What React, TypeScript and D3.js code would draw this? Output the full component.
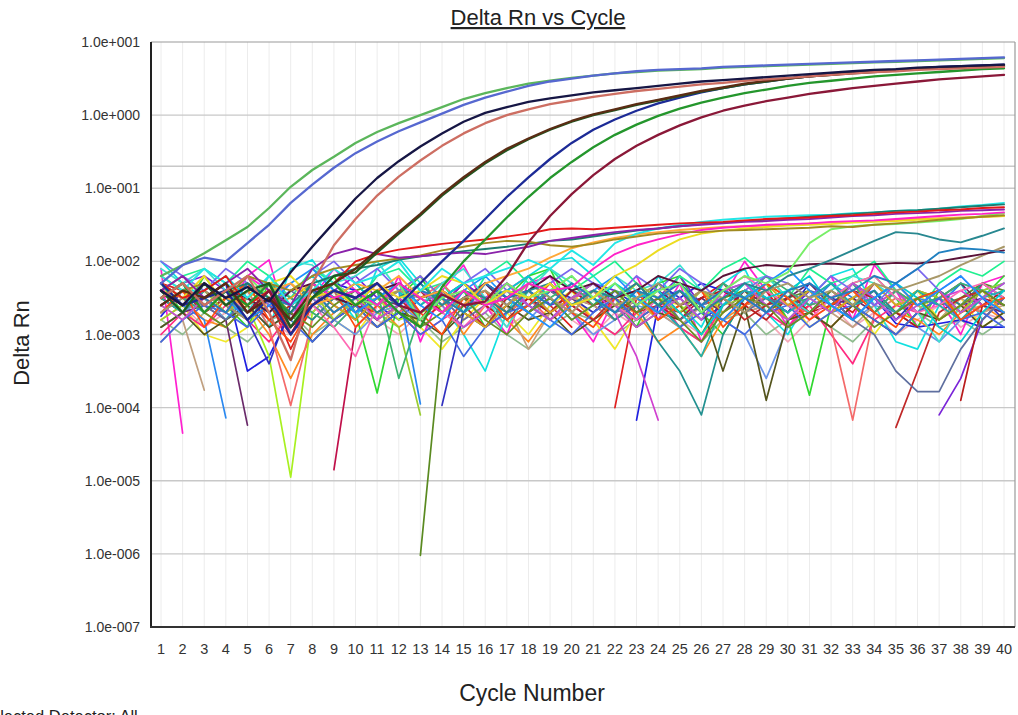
import React, { FC, useMemo } from 'react'
import * as d3 from 'd3'

// x categories (cycle numbers)
const cycles = [
	1, 2, 3, 4, 5, 6, 7, 8, 9, 10, 11, 12, 13, 14, 15, 16, 17, 18, 19, 20,
	21, 22, 23, 24, 25, 26, 27, 28, 29, 30, 31, 32, 33, 34, 35, 36, 37, 38, 39, 40
]

const yTickValues = [1e-7, 1e-6, 1e-5, 1e-4, 1e-3, 1e-2, 1e-1, 1e0, 1e1]
const yTickLabels = [
	'1.0e-007', '1.0e-006', '1.0e-005', '1.0e-004', '1.0e-003',
	'1.0e-002', '1.0e-001', '1.0e+000', '1.0e+001'
]
const threshold = 0.2

// values are log10(Delta Rn); null = not plotted (negative)
const ampGreen = [
	-2.2, -2.05, -1.89, -1.71, -1.53, -1.27, -0.98, -0.75, -0.57, -0.38,
	-0.23, -0.11, 0.0, 0.11, 0.22, 0.3, 0.37, 0.43, 0.47, 0.51,
	0.54, 0.57, 0.59, 0.61, 0.62, 0.63, 0.65, 0.66, 0.67, 0.68,
	0.69, 0.7, 0.71, 0.72, 0.73, 0.74, 0.75, 0.76, 0.77, 0.78
]
const ampBlue = [
	-2.3, -2.05, -1.95, -2.0, -1.75, -1.5, -1.2, -0.95, -0.72, -0.52,
	-0.36, -0.22, -0.1, 0.02, 0.14, 0.24, 0.32, 0.4, 0.46, 0.5,
	0.54, 0.57, 0.6, 0.62, 0.63, 0.64, 0.66, 0.67, 0.68, 0.69,
	0.7, 0.71, 0.72, 0.73, 0.74, 0.75, 0.76, 0.77, 0.78, 0.79
]
const ampNavy = [
	-2.4, -2.6, -2.3, -2.5, -2.35, -2.55, -2.15, -1.8, -1.47, -1.14,
	-0.86, -0.63, -0.43, -0.25, -0.09, 0.03, 0.11, 0.18, 0.23, 0.27,
	0.31, 0.34, 0.37, 0.4, 0.43, 0.46, 0.48, 0.5, 0.52, 0.54,
	0.56, 0.58, 0.6, 0.62, 0.63, 0.65, 0.66, 0.67, 0.68, 0.69
]
const ampSalmon = [
	-2.5, -2.3, -2.6, -2.4, -2.2, -2.7, -3.35, -2.3, -1.78, -1.42,
	-1.1, -0.84, -0.62, -0.42, -0.25, -0.11, 0.0, 0.08, 0.15, 0.2,
	0.25, 0.29, 0.33, 0.36, 0.39, 0.42, 0.44, 0.47, 0.49, 0.51,
	0.53, 0.55, 0.57, 0.59, 0.6, 0.62, 0.63, 0.64, 0.65, 0.66
]
const ampBrown = [
	-2.6, -2.4, -2.5, -2.3, -2.7, -2.5, -2.8, -2.4, -2.3, -2.1,
	-1.85, -1.6, -1.35, -1.08, -0.85, -0.64, -0.46, -0.32, -0.19, -0.08,
	0.01, 0.08, 0.15, 0.21, 0.27, 0.33, 0.38, 0.43, 0.47, 0.5,
	0.53, 0.55, 0.57, 0.59, 0.61, 0.63, 0.64, 0.65, 0.66, 0.67
]
const ampDkGreen = [
	-2.4, -2.7, -2.3, -2.6, -2.4, -2.3, -2.9, -2.5, -2.2, -2.15,
	-1.88, -1.62, -1.37, -1.1, -0.87, -0.66, -0.48, -0.33, -0.2, -0.09,
	0.0, 0.07, 0.14, 0.2, 0.26, 0.32, 0.37, 0.42, 0.46, 0.5,
	0.53, 0.55, 0.58, 0.6, 0.62, 0.63, 0.65, 0.66, 0.67, 0.68
]
const ampNavy2 = [
	-2.3, -2.6, -2.5, -2.4, -2.8, -2.5, -3.0, -2.6, -2.4, -2.5,
	-2.3, -2.6, -2.3, -2.0, -1.72, -1.42, -1.12, -0.85, -0.6, -0.38,
	-0.2, -0.06, 0.06, 0.16, 0.24, 0.31, 0.37, 0.42, 0.46, 0.5,
	0.53, 0.56, 0.58, 0.6, 0.62, 0.64, 0.66, 0.67, 0.68, 0.69
]
const ampGreen2 = [
	-2.5, -2.3, -2.7, -2.4, -2.6, -2.3, -2.8, -2.5, -2.3, -2.6,
	-2.4, -2.7, -2.9, -2.35, -2.0, -1.7, -1.4, -1.12, -0.86, -0.64,
	-0.44, -0.27, -0.13, -0.01, 0.09, 0.17, 0.24, 0.3, 0.35, 0.4,
	0.44, 0.47, 0.5, 0.53, 0.55, 0.57, 0.59, 0.61, 0.63, 0.64
]
const ampMaroon = [
	-2.4, -2.6, -2.5, -2.3, -2.7, -2.4, -2.9, -2.6, -2.4, -2.5,
	-2.3, -2.6, -2.7, -2.45, -2.6, -2.55, -2.2, -1.74, -1.38, -1.08,
	-0.82, -0.6, -0.42, -0.27, -0.14, -0.03, 0.06, 0.13, 0.19, 0.24,
	0.29, 0.33, 0.37, 0.4, 0.43, 0.46, 0.49, 0.51, 0.53, 0.55
]

// low-level risers (~0.05 at cycle 40)
const lowRed = [
	-2.3, -2.5, -2.4, -2.2, -2.6, -2.4, -3.0, -2.5, -2.3, -2.0,
	-1.9, -1.84, -1.8, -1.76, -1.73, -1.7, -1.66, -1.62, -1.56, -1.55,
	-1.56, -1.54, -1.52, -1.5, -1.48, -1.47, -1.46, -1.44, -1.42, -1.41,
	-1.4, -1.38, -1.37, -1.35, -1.33, -1.32, -1.3, -1.29, -1.27, -1.26
]
const lowPurple = [
	-2.4, -2.2, -2.5, -2.3, -2.1, -2.4, -2.6, -2.1, -1.9, -1.82,
	-1.9, -1.95, -1.93, -1.9, -1.88, -1.9, -1.85, -1.8, -1.72, -1.68,
	-1.64, -1.6, -1.57, -1.55, -1.52, -1.5, -1.48, -1.46, -1.45, -1.43,
	-1.42, -1.4, -1.38, -1.37, -1.35, -1.34, -1.33, -1.31, -1.3, -1.29
]
const lowOlive = [
	-2.6, -2.4, -2.3, -2.5, -2.2, -2.3, -2.4, -2.2, -2.1, -2.05,
	-2.0, -1.96, -1.92, -1.85, -1.8, -1.75, -1.72, -1.73, -1.78, -1.8,
	-1.76, -1.7, -1.66, -1.62, -1.6, -1.6, -1.58, -1.57, -1.56, -1.55,
	-1.54, -1.52, -1.53, -1.5, -1.48, -1.46, -1.43, -1.41, -1.39, -1.37
]
const lowTeal = [
	-2.5, -2.3, -2.6, -2.4, -2.3, -2.5, -2.7, -2.3, -2.2, -2.1,
	-2.05, -1.98, -1.93, -1.9, -1.86, -1.83, -1.8, -1.76, -1.72, -1.7,
	-1.66, -1.62, -1.58, -1.55, -1.52, -1.49, -1.47, -1.45, -1.43, -1.41,
	-1.39, -1.37, -1.35, -1.33, -1.31, -1.3, -1.28, -1.26, -1.24, -1.22
]
const lowCyan = [
	-2.2, -2.4, -2.1, -2.3, -2.5, -2.2, -2.6, -2.4, -2.1, -2.3,
	-2.2, -2.0, -2.4, -2.1, -2.3, -2.2, -2.1, -1.98, -2.1, -1.85,
	-2.05, -1.75, -1.62, -1.55, -1.5, -1.46, -1.43, -1.41, -1.39, -1.38,
	-1.37, -1.36, -1.34, -1.33, -1.31, -1.3, -1.28, -1.25, -1.23, -1.2
]
const lowMagenta = [
	-2.4, -2.6, -2.3, -2.5, -2.2, -2.4, -2.8, -2.3, -2.5, -2.4,
	-2.6, -2.3, -2.5, -2.7, -2.4, -2.6, -2.5, -2.3, -2.4, -2.35,
	-2.1, -1.9, -1.78, -1.7, -1.63, -1.57, -1.54, -1.52, -1.5, -1.49,
	-1.48, -1.46, -1.45, -1.44, -1.42, -1.4, -1.38, -1.36, -1.35, -1.33
]
const lowYellow = [
	-2.3, -2.5, -2.2, -2.6, -2.4, -2.3, -2.2, -2.5, -2.4, -2.6,
	-2.3, -2.5, -2.4, -2.2, -2.3, -2.6, -2.4, -2.5, -2.3, -2.6,
	-2.5, -2.2, -2.05, -1.85, -1.7, -1.62, -1.58, -1.55, -1.53, -1.51,
	-1.5, -1.49, -1.47, -1.46, -1.45, -1.43, -1.42, -1.41, -1.39, -1.38
]
const lowOrange = [
	-2.2, -2.4, -2.3, -2.5, -2.6, -2.4, -2.3, -2.6, -2.5, -2.3,
	-2.4, -2.2, -2.5, -2.4, -2.6, -2.3, -2.2, -2.1, -1.95, -1.82,
	-1.74, -1.68, -1.63, -1.6, -1.57, -1.55, -1.53, -1.52, -1.51, -1.5,
	-1.48, -1.47, -1.46, -1.45, -1.43, -1.42, -1.41, -1.4, -1.39, -1.38
]
const lowLtGreen = [
	-2.5, -2.3, -2.6, -2.4, -2.2, -2.5, -2.9, -2.4, -2.3, -2.5,
	-2.6, -2.3, -2.8, -2.5, -2.4, -2.6, -2.3, -2.5, -2.4, -2.2,
	-2.5, -2.3, -2.6, -2.4, -2.3, -2.7, -2.4, -2.2, -2.3, -2.15,
	-1.75, -1.56, -1.52, -1.5, -1.49, -1.47, -1.45, -1.42, -1.38, -1.34
]
const lowTeal2 = [
	-2.4, -2.6, -2.3, -2.5, -2.7, -2.4, -2.6, -2.3, -2.5, -2.4,
	-2.7, -2.5, -2.3, -2.6, -2.4, -2.5, -2.7, -2.4, -2.3, -2.6,
	-2.4, -2.5, -2.3, -2.6, -2.4, -2.7, -2.5, -2.3, -2.4, -2.2,
	-2.1, -1.98, -1.85, -1.72, -1.6, -1.62, -1.7, -1.74, -1.65, -1.55
]
const lowBlueTeal = [
	-2.6, -2.4, -2.5, -2.7, -2.3, -2.5, -2.6, -2.4, -2.7, -2.5,
	-2.3, -2.6, -2.4, -2.5, -2.7, -2.3, -2.5, -2.4, -2.6, -2.3,
	-2.5, -2.7, -2.4, -2.5, -2.3, -2.6, -2.4, -2.5, -2.7, -2.4,
	-2.3, -2.5, -2.4, -2.2, -2.3, -2.1, -1.88, -1.82, -1.84, -1.88
]
const lowDkMaroon = [
	-2.5, -2.3, -2.6, -2.4, -2.5, -2.7, -2.4, -2.3, -2.5, -2.6,
	-2.4, -2.3, -2.5, -2.4, -2.6, -2.3, -2.5, -2.4, -2.2, -2.4,
	-2.3, -2.5, -2.4, -2.2, -2.3, -2.4, -2.2, -2.1, -2.05, -2.07,
	-2.04, -2.03, -2.05, -2.04, -2.02, -2.03, -2.0, -1.95, -1.9, -1.85
]
const lowTan = [
	-2.7, -2.5, -2.4, -2.6, -2.8, -2.5, -2.6, -2.4, -2.7, -2.5,
	-2.6, -2.4, -2.5, -2.7, -2.5, -2.4, -2.6, -2.3, -2.5, -2.7,
	-2.4, -2.6, -2.5, -2.3, -2.6, -2.4, -2.5, -2.7, -2.4, -2.3,
	-2.5, -2.4, -2.6, -2.3, -2.4, -2.3, -2.2, -2.05, -1.92, -1.8
]

// baseline noise wells
const noise01 = [
	-2.1, -4.35, null, -2.7, -2.2, -1.98, -3.0, -2.5, -2.1, -2.4,
	-2.8, -2.2, -3.1, -2.4, -2.05, -2.6, -3.0, -2.3, -2.2, -2.7,
	-3.1, -2.5, -2.2, -2.8, -2.3, -3.1, -2.5, -2.0, -2.4, -2.9,
	-2.5, -2.2, -2.8, -2.05, -2.4, -2.9, -2.5, -3.0, -2.3, -2.2
]
const noise02 = [
	-2.0, -2.3, -2.5, -2.8, -2.4, -2.9, -2.1, -1.98, -2.4, -2.8,
	-2.1, -1.95, -2.3, -2.6, -3.0, -3.5, -2.7, -2.2, -2.0, -1.95,
	-2.2, -2.5, -2.8, -2.2, -2.6, -2.9, -2.3, -2.1, -2.7, -3.0,
	-2.5, -2.2, -2.1, -2.6, -3.1, -3.2, -2.6, -2.3, -2.8, -2.5
]
const noise03 = [
	-2.8, -2.6, -3.0, -3.1, -2.9, -2.5, -2.3, -2.5, -2.8, -3.0,
	-2.6, -2.4, -2.9, -3.2, -2.8, -2.5, -2.7, -3.0, -2.6, -2.4,
	-2.8, -3.2, -2.7, -2.5, -2.6, -3.0, -2.7, -2.4, -2.6, -2.5,
	-2.9, -2.7, -2.5, -3.0, -2.6, -2.4, -2.8, -2.5, -2.9, -2.7
]
const noise04 = [
	-2.3, -2.4, -2.6, -2.4, -2.8, -2.5, -3.2, -2.6, -2.4, -2.7,
	-2.5, -2.3, -2.8, -2.6, -2.3, -2.5, -2.7, -2.4, -2.6, -2.9,
	null, -4.0, -2.5, -2.4, -2.7, -2.5, -2.3, -2.6, -2.4, -2.8,
	-2.6, -2.5, -2.7, -2.3, -2.6, -2.4, -2.5, -2.7, -2.3, -2.5
]
const noise05 = [
	-2.3, -2.7, -2.2, -2.6, -2.9, -2.3, -3.0, -2.5, -2.2, -2.7,
	-3.8, -2.5, -2.2, -2.7, -2.4, -2.9, -2.5, -2.2, -2.1, -2.7,
	-2.4, -2.5, -2.9, -2.3, -2.2, -2.7, -3.0, -2.5, -2.3, -2.8,
	-3.83, -2.6, -2.3, -2.2, -2.5, -2.9, -2.4, -2.7, -2.5, -2.2
]
const noise06 = [
	-2.75, -2.4, -2.5, -2.3, -3.5, -3.3, -2.7, -2.5, -2.3, -2.4,
	-2.6, -2.8, -2.5, -2.4, -2.6, -2.3, -2.5, -2.7, -2.4, -2.6,
	-2.8, null, -4.17, -2.6, -2.5, -2.3, -2.4, -2.6, -2.5, -2.7,
	-2.4, -2.6, -2.8, -2.5, -2.85, -2.9, -2.85, -2.8, -2.9, -2.9
]
const noise07 = [
	-2.4, -2.5, -2.8, -2.9, -2.6, -3.0, -3.6, -3.0, -2.7, -2.5,
	-2.6, -2.9, -2.7, -2.5, -3.0, -2.6, -2.8, -3.1, -2.7, -2.5,
	-2.8, -2.6, -2.7, -3.1, -2.9, -3.3, -2.8, -2.6, -2.5, -2.8,
	-2.7, -2.9, -2.6, -2.5, -2.7, -2.8, -3.0, -2.7, -2.6, -2.8
]
const noise08 = [
	-2.5, -2.3, -2.2, -2.4, -2.6, -2.3, -2.5, -2.7, -2.4, -2.2,
	-2.5, -2.7, -2.4, -2.6, -2.3, -2.5, -2.4, -2.2, -2.6, -2.5,
	-2.3, -2.4, -2.7, -2.5, -2.2, -2.6, -2.4, -2.3, -2.5, -2.7,
	-2.4, -2.6, -2.3, -2.5, -2.7, null, -4.1, -3.6, -2.8, -2.5
]
const noise09 = [
	-2.4, -2.2, -2.1, -2.3, -2.0, -2.2, -2.5, -2.1, -2.3, -2.6,
	-2.2, -2.1, -2.4, -2.3, -2.7, -2.2, -2.0, -2.3, -2.1, -2.4,
	-2.2, -2.0, -2.3, -2.6, -2.2, -2.4, -2.1, -1.95, -2.2, -2.5,
	-2.1, -2.3, -2.2, -2.0, -2.4, -2.7, -2.3, -2.1, -2.2, -2.0
]
const noise10 = [
	-3.0, -2.7, -2.9, -2.6, -2.8, -3.1, -2.7, -2.5, -2.8, -2.6,
	-2.5, -2.7, -3.0, -2.8, -2.6, -2.9, -2.7, -2.5, -2.8, -2.6,
	-2.8, -3.0, -2.7, -2.5, -2.9, -3.1, -2.6, -2.4, -2.7, -2.9,
	-2.6, -3.0, -3.4, -2.8, -2.6, -2.7, -2.5, -2.8, -2.6, -2.7
]
const noise11 = [
	-2.9, -2.7, -2.5, -2.8, -2.6, -3.3, -4.95, -2.7, -2.4, -2.6,
	-2.5, -2.8, -2.7, -2.6, -2.4, -2.5, -2.7, -2.5, -2.3, -2.6,
	-2.4, -2.7, -2.5, -2.3, -2.6, -2.8, -2.5, -2.4, -2.6, -2.5,
	-2.7, -2.4, -2.6, -2.5, -2.3, -2.6, -2.8, -2.5, -2.4, -2.6
]
const noise12 = [
	-2.4, -2.6, -2.8, -4.14, null, -2.5, -2.7, -2.4, -2.3, -2.5,
	-2.6, -2.4, -3.95, null, -2.5, -2.3, -2.6, -2.4, -2.7, -2.5,
	-2.3, -2.6, -2.8, -2.5, -2.4, -2.6, -2.3, -2.5, -2.7, -2.4,
	-2.6, -2.3, -2.5, -2.4, -2.7, -2.5, -2.6, -2.3, -2.4, -2.5
]
const noise13 = [
	-2.5, -2.3, -2.6, -2.4, -2.7, -2.5, -2.8, null, -4.85, -2.9,
	-2.6, -2.4, -2.5, -2.7, -2.4, -2.6, -2.3, -2.5, -2.7, -2.4,
	-2.6, -2.5, -2.3, -2.6, -2.8, -2.5, -2.4, -2.6, -2.3, -2.5,
	-2.7, -2.4, -2.6, -2.5, -2.3, -2.6, -2.4, -2.7, -2.5, -2.6
]
const noise14 = [
	-2.6, -2.4, -2.7, -2.5, -2.3, -2.6, -2.9, -2.5, -2.4, -2.6,
	-2.8, null, -6.02, -3.0, -2.6, -2.4, -2.7, -2.5, -2.3, -2.6,
	-2.4, -2.7, -2.5, -2.8, -2.6, -3.0, -2.5, -2.4, -2.7, -2.5,
	-2.4, -2.6, -2.3, -2.5, -2.7, -2.4, -2.6, -2.5, -2.3, -2.4
]
const noise15 = [
	-2.3, -2.5, -2.4, -2.6, -2.8, -3.4, -2.6, -2.4, -2.5, -2.7,
	-2.4, -2.6, null, -3.97, -2.7, -2.5, -2.3, -2.6, -2.4, -2.5,
	-2.7, -2.4, -2.6, -2.3, -2.5, -2.8, -2.6, -2.4, -2.5, -2.7,
	-2.3, -2.5, -2.6, -2.4, -2.8, -2.5, -2.4, -2.6, -2.5, -2.8
]
const noise16 = [
	-2.9, -2.7, -2.5, -2.8, -2.6, -2.9, -2.7, -2.5, -2.8, -3.0,
	-2.7, -2.6, -2.8, -2.5, -2.7, -2.9, -2.6, -2.8, -2.5, -2.7,
	-3.0, -2.8, -2.6, -2.7, -2.9, -2.6, -2.8, -3.0, -3.6, -2.9,
	-2.7, -2.5, -2.8, -2.6, -2.7, -2.9, -3.1, -2.8, -2.6, -2.7
]
const noise17 = [
	-2.6, -2.8, -2.5, -2.7, -2.4, -2.9, -3.97, -2.8, -2.5, -2.6,
	-2.4, -2.7, -2.5, -2.3, -2.6, -2.4, -2.7, -2.5, -2.8, -2.6,
	-2.4, -2.6, -2.5, -2.7, -2.4, -2.6, -2.8, -2.5, -2.4, -2.6,
	-2.7, -2.9, -4.17, -2.7, -2.5, -2.6, -2.4, -2.6, -2.7, -2.5
]
const noise18 = [
	-2.5, -2.7, -2.6, -2.8, -4.24, null, -2.6, -2.4, -2.6, -2.8,
	-2.5, -2.6, -2.4, -2.7, -2.5, -2.3, -2.6, -2.4, -2.7, -2.5,
	-2.6, -2.8, -2.5, -2.4, -2.6, -2.5, -2.7, -2.4, -2.6, -2.5,
	-2.3, -2.6, -2.5, -2.7, -2.4, -2.6, -2.5, -2.3, -2.6, -2.7
]
const noise19 = [
	-3.1, -2.8, -3.76, null, -2.7, -2.5, -2.6, -2.8, -2.5, -2.7,
	-2.9, -2.6, -2.4, -2.7, -2.5, -2.8, -2.6, -3.2, -2.7, -2.5,
	-2.6, -2.8, -2.5, -2.7, -2.9, -2.6, -2.5, -2.7, -2.6, -2.8,
	-2.5, -2.7, -2.9, -2.6, -2.4, -2.6, -2.8, -2.5, -2.7, -2.6
]
const noise20 = [
	-2.4, -2.6, -2.3, -2.5, -2.7, -2.4, -2.6, -2.8, -2.5, -2.3,
	-2.6, -2.4, -2.7, -2.5, -2.3, -2.6, -2.4, -2.5, -2.7, -2.4,
	-2.5, -2.8, -2.6, -3.1, -3.5, -4.1, -3.0, -2.5, -2.4, -2.6,
	-2.5, -2.3, -2.6, -2.4, -2.7, -2.5, -2.4, -2.6, -2.3, -2.5
]
const noise21 = [
	-2.9, -2.7, -3.0, -2.8, -2.6, -2.9, -2.7, -3.1, -2.8, -2.6,
	-2.9, -2.7, -2.8, -3.0, -2.7, -2.9, -2.6, -2.8, -2.7, -3.0,
	-2.8, -2.6, -2.9, -2.7, -2.8, -2.6, -3.5, -2.6, -3.9, -2.8,
	-2.7, -2.9, -2.6, -2.8, -3.0, -2.7, -2.8, -2.6, -2.9, -2.7
]
const noise22 = [
	-2.6, -2.4, -2.7, -2.5, -2.8, -2.6, -3.0, -2.5, -2.4, -2.6,
	-2.7, -2.5, -2.8, -2.4, -2.6, -2.9, -2.5, -2.7, -2.4, -2.6,
	-2.8, -2.5, -2.7, -2.6, -2.4, -2.7, -2.5, -2.8, -2.6, -2.4,
	-2.7, -2.5, -2.8, null, -4.27, -3.5, -2.7, -2.5, -2.4, -2.6
]
const noise23 = [
	-2.5, -2.7, -2.4, -2.6, -2.5, -2.8, -2.6, -2.4, -2.7, -2.5,
	-2.8, -2.6, -2.4, -2.7, -2.5, -2.6, -2.8, -2.5, -2.7, -2.4,
	-2.6, -2.5, -2.8, -2.6, -2.7, -2.5, -2.4, -2.6, -2.8, -2.5,
	-2.7, -2.6, -2.4, -2.5, -2.7, -2.9, null, -3.9, -2.6, -2.4
]
const noise24 = [
	-2.7, -2.5, -2.6, -2.8, -2.5, -2.7, -2.4, -2.6, -2.8, -2.5,
	-2.6, -2.4, -2.7, -2.5, -2.8, -2.6, -2.5, -2.7, -2.4, -2.6,
	-2.5, -2.7, -2.6, -2.4, -2.8, -2.6, -2.5, -2.7, -2.5, -2.6,
	-2.4, -2.5, -2.8, -3.0, -3.5, -3.78, -3.78, -3.2, -2.8, -2.5
]
const noise25 = [
	-2.1, -2.3, -2.1, -2.4, -2.7, -2.2, -2.0, -2.05, -2.3, -2.2,
	-2.0, -2.4, -2.6, -2.3, -2.1, -2.5, -2.9, -2.4, -2.1, -2.3,
	-2.5, -2.2, -2.4, -2.3, -2.05, -2.4, -2.6, -2.3, -2.2, -2.5,
	-2.7, -2.4, -2.2, -2.3, -2.5, -2.7, -3.1, -2.6, -2.4, -2.3
]
const noise26 = [
	-2.8, -2.6, -2.4, -2.7, -2.5, -2.3, -2.6, -2.4, -2.8, -2.5,
	-2.7, -2.9, -4.1, null, -2.7, -2.5, -2.4, -2.6, -2.8, -2.5,
	-2.4, -2.6, -2.3, -2.5, -2.7, -2.4, -2.6, -2.5, -2.3, -2.6,
	-2.4, -2.7, -2.5, -2.3, -2.6, -2.4, -2.5, -2.7, -2.4, -2.3
]
const noise27 = [
	-2.6, -2.4, -2.5, -2.7, -2.3, -2.6, -2.8, -2.5, -2.4, -2.6,
	-2.3, -2.5, -2.7, -2.4, -2.6, -2.5, -2.3, -2.6, -2.8, -2.5,
	-2.4, -2.7, -3.3, -4.17, null, -2.6, -2.4, -2.5, -2.7, -2.4,
	-2.6, -2.5, -2.3, -2.6, -2.4, -2.7, -2.5, -2.4, -2.6, -2.5
]
const noise28 = [
	-2.3, -2.5, -2.7, -2.4, -2.6, -2.3, -2.5, -2.7, -2.9, -2.6,
	-2.4, -3.6, -2.7, -2.5, -2.3, -2.6, -2.4, -2.7, -2.5, -2.3,
	-2.6, -2.4, -2.5, -2.7, -2.4, -2.6, -2.3, -2.5, -2.2, -2.4,
	-2.6, -2.5, -2.3, -2.7, -2.4, -2.6, -2.5, -2.3, -2.4, -2.6
]
const noise29 = [
	-3.1, -2.8, -2.6, -2.7, -2.9, -2.6, -2.8, -3.1, -2.8, -2.6,
	-2.9, -2.7, -3.0, -2.8, -3.3, -2.9, -2.7, -2.6, -2.8, -3.0,
	-2.7, -2.5, -2.8, -2.6, -2.9, -2.7, -2.8, -3.0, -2.7, -2.6,
	-2.9, -2.7, -2.6, -2.8, -3.0, -2.7, -2.5, -2.8, -2.7, -2.9
]
const noise30 = [
	-2.5, -2.3, -2.6, -2.4, -2.7, -2.5, -2.3, -2.6, -2.9, -3.3,
	-2.6, -2.4, -2.5, -2.7, -2.9, -2.6, -2.4, -2.2, -2.5, -2.7,
	-2.4, -2.6, -2.8, -2.5, -2.3, -2.6, -2.4, -2.2, -2.4, -2.6,
	-2.8, -2.5, -2.3, -2.2, -2.5, -2.7, -2.6, -2.4, -2.3, -2.5
]
const noise31 = [
	-2.8, -3.0, -2.7, -2.9, -3.1, -2.8, -2.7, -3.0, -2.8, -2.6,
	-2.9, -2.7, -2.8, -3.1, -2.9, -2.7, -3.0, -3.2, -2.9, -2.7,
	-2.8, -3.0, -2.8, -2.6, -2.9, -3.1, -2.8, -2.7, -3.0, -2.8,
	-2.7, -2.9, -3.1, -2.8, -3.0, -2.7, -2.9, -2.8, -3.0, -2.8
]
const noise32 = [
	-2.4, -2.2, -2.5, -2.7, -2.4, -2.6, -2.5, -2.3, -2.6, -2.8,
	-2.5, -2.4, -2.2, -2.5, -2.7, -2.9, -2.6, -2.4, -2.7, -2.5,
	-2.3, -2.6, -2.5, -2.8, -2.6, -2.4, -2.7, -2.5, -2.3, -2.6,
	-2.4, -2.7, -2.5, -2.3, -2.6, -2.5, -2.8, -2.6, -2.4, -2.7
]
const noise33 = [
	-2.0, -2.2, -2.4, -2.1, -2.3, -2.6, -2.4, -2.2, -2.0, -2.3,
	-2.1, -2.4, -2.2, -2.5, -2.3, -2.1, -2.4, -2.6, -2.3, -2.1,
	-2.3, -2.5, -2.2, -2.4, -2.1, -2.3, -2.6, -2.4, -2.2, -2.3,
	-2.5, -2.2, -2.4, -2.6, -2.3, -2.1, -2.4, -2.2, -2.5, -2.3
]
const noise34 = [
	-2.5, -2.7, -2.4, -2.6, -2.3, -2.5, -2.8, -2.6, -2.4, -2.7,
	-2.5, -2.3, -2.6, -2.4, -2.7, -2.5, -2.8, -2.6, -2.4, -2.2,
	-2.5, -2.7, -2.4, -2.6, -2.9, -3.3, -2.6, -2.4, -2.5, -2.7,
	-2.5, -2.3, -2.6, -2.5, -2.7, -2.4, -2.6, -2.8, -2.5, -2.4
]
const noise35 = [
	-2.7, -2.4, -2.9, -2.5, -2.3, -2.8, -3.1, -2.6, -2.4, -2.9,
	-2.6, -2.3, -2.7, -3.0, -2.5, -2.4, -2.8, -2.6, -2.3, -2.7,
	-2.9, -2.5, -2.4, -2.8, -2.6, -2.4, -2.9, -2.6, -2.3, -2.5,
	-2.8, -2.6, -2.4, -2.7, -2.9, -2.5, -2.4, -2.8, -2.6, -2.5
]
const noise36 = [
	-2.3, -2.6, -2.4, -2.2, -2.5, -2.7, -2.4, -2.2, -2.5, -2.3,
	-2.6, -2.4, -2.8, -2.5, -2.3, -2.6, -2.4, -2.2, -2.5, -2.8,
	-2.6, -2.3, -2.5, -2.4, -2.7, -3.0, -2.6, -2.3, -2.5, -2.4,
	-2.2, -2.6, -2.8, -2.5, -2.3, -2.5, -2.9, -3.1, -2.7, -2.4
]
const noise37 = [
	-2.6, -2.8, -2.5, -2.3, -2.7, -2.5, -2.9, -2.6, -2.3, -2.5,
	-2.8, -2.6, -2.4, -2.6, -2.9, -2.7, -2.4, -2.6, -2.8, -2.5,
	-2.3, -2.6, -2.9, -2.7, -2.5, -2.8, -2.4, -2.3, -2.6, -2.8,
	-2.5, -2.7, -2.3, -2.5, -2.8, -2.6, -2.4, -2.7, -2.5, -2.3
]
const noise38 = [
	-2.5, -2.3, -2.7, -2.9, -2.6, -2.4, -2.7, -2.9, -2.6, -2.4,
	-2.3, -2.6, -2.9, -2.7, -2.5, -2.8, -3.0, -2.7, -2.5, -2.8,
	-2.6, -2.4, -2.7, -2.5, -2.8, -3.1, -2.7, -2.5, -2.6, -2.9,
	-2.7, -2.4, -2.6, -2.9, -2.7, -2.5, -2.8, -2.6, -2.4, -2.6
]
const noise39 = [
	-2.4, -2.6, -2.3, -2.5, -2.8, -2.6, -2.3, -2.1, -2.4, -2.7,
	-2.5, -2.3, -2.6, -2.8, -2.4, -2.2, -2.5, -2.7, -2.9, -2.6,
	-2.4, -2.2, -2.5, -2.7, -2.4, -2.6, -2.8, -2.5, -2.3, -2.1,
	-2.4, -2.6, -2.8, -2.5, -2.3, -2.6, -2.4, -2.2, -2.5, -2.7
]
const noise40 = [
	-2.8, -2.6, -2.9, -2.7, -2.5, -2.8, -3.0, -2.7, -2.9, -2.6,
	-2.8, -3.0, -2.7, -2.5, -2.8, -2.6, -2.9, -2.7, -2.5, -2.8,
	-3.0, -2.7, -2.9, -2.6, -2.8, -3.0, -2.7, -2.5, -2.8, -3.1,
	-2.8, -2.6, -2.9, -2.7, -3.0, -2.8, -2.6, -2.9, -2.7, -2.8
]

const noiseWells = [
	{ values: noise40, color: '#f4a8b8' },
	{ values: noise31, color: '#8fbc8f' },
	{ values: noise01, color: '#ff20d0' },
	{ values: noise02, color: '#10e0e0' },
	{ values: noise03, color: '#f0e828' },
	{ values: noise04, color: '#e02020' },
	{ values: noise05, color: '#30d830' },
	{ values: noise06, color: '#2020e0' },
	{ values: noise07, color: '#ff8a20' },
	{ values: noise08, color: '#7a24d8' },
	{ values: noise09, color: '#20f090' },
	{ values: noise10, color: '#ff2a80' },
	{ values: noise11, color: '#a8f020' },
	{ values: noise12, color: '#2a88f0' },
	{ values: noise13, color: '#c0104a' },
	{ values: noise14, color: '#5a8a20' },
	{ values: noise15, color: '#3030c0' },
	{ values: noise16, color: '#6b95e8' },
	{ values: noise17, color: '#f46a6a' },
	{ values: noise18, color: '#6a2a6a' },
	{ values: noise19, color: '#c0a080' },
	{ values: noise20, color: '#229090' },
	{ values: noise21, color: '#54541c' },
	{ values: noise22, color: '#c02828' },
	{ values: noise23, color: '#b81c1c' },
	{ values: noise24, color: '#5f6f9f' },
	{ values: noise25, color: '#40e0d0' },
	{ values: noise26, color: '#9acd32' },
	{ values: noise27, color: '#d040d0' },
	{ values: noise28, color: '#3cb371' },
	{ values: noise29, color: '#4169e1' },
	{ values: noise30, color: '#ff69b4' },
	{ values: noise32, color: '#daa520' },
	{ values: noise33, color: '#7b68ee' },
	{ values: noise34, color: '#20b2aa' },
	{ values: noise35, color: '#ff4a10' },
	{ values: noise36, color: '#00ced1' },
	{ values: noise37, color: '#ba55d3' },
	{ values: noise38, color: '#6b8e23' },
	{ values: noise39, color: '#1e90ff' }
]

const lowRisers = [
	{ values: lowTan, color: '#a89868' },
	{ values: lowDkMaroon, color: '#5a1238' },
	{ values: lowBlueTeal, color: '#2080c0' },
	{ values: lowTeal2, color: '#288890' },
	{ values: lowLtGreen, color: '#78ee68' },
	{ values: lowOrange, color: '#ffa838' },
	{ values: lowYellow, color: '#ecdc20' },
	{ values: lowMagenta, color: '#ff22c8' },
	{ values: lowCyan, color: '#22e6e6' },
	{ values: lowTeal, color: '#1c7c70' },
	{ values: lowOlive, color: '#a08a22' },
	{ values: lowPurple, color: '#8a22aa' },
	{ values: lowRed, color: '#e41818' }
]

const amplified = [
	{ values: ampMaroon, color: '#8a1838' },
	{ values: ampGreen2, color: '#24962c' },
	{ values: ampNavy2, color: '#1c2a96' },
	{ values: ampDkGreen, color: '#1f5a22' },
	{ values: ampBrown, color: '#5a2c14' },
	{ values: ampSalmon, color: '#cd6e62' },
	{ values: ampNavy, color: '#161645' },
	{ values: ampGreen, color: '#5bb65b' },
	{ values: ampBlue, color: '#5668d0' }
]

const plot = { left: 151, right: 1015, top: 42, bottom: 627 }
const font = 'Helvetica, Arial, "Liberation Sans", sans-serif'

const App: FC = () => {
	const xScale = useMemo(() => {
		return d3.scaleLinear().domain([1, 40]).range([161, 1004])
	}, [])

	const yScale = useMemo(() => {
		return d3.scaleLog().domain([1e-7, 10]).range([plot.bottom, plot.top])
	}, [])

	const line = useMemo(() => {
		return d3
			.line<number | null>()
			.defined((d) => d !== null)
			.x((_, i) => xScale(cycles[i]))
			.y((d) => yScale(Math.pow(10, d as number)))
	}, [])

	const hGrid = [...yTickValues.slice(1, -1), threshold]

	return (
		<div>
			<style>{'body{margin:0}'}</style>
			<svg width={1018} height={715} style={{ display: 'block', background: '#fff' }}>
				{/* grid */}
				<g>
					{cycles.map((c) => (
						<line
							key={'v' + c}
							x1={xScale(c)}
							x2={xScale(c)}
							y1={plot.top}
							y2={plot.bottom}
							stroke="#ececec"
							strokeWidth={1}
						/>
					))}
					{hGrid.map((v, i) => (
						<line
							key={'h' + i}
							x1={plot.left}
							x2={plot.right}
							y1={yScale(v)}
							y2={yScale(v)}
							stroke="#c8c8c8"
							strokeWidth={1.3}
						/>
					))}
				</g>

				{/* 主图 */}
				<g fill="none" strokeLinejoin="round" strokeLinecap="round">
					{noiseWells.map((s, i) => (
						<path key={'n' + i} d={line(s.values) || ''} stroke={s.color} strokeWidth={1.7} />
					))}
					{lowRisers.map((s, i) => (
						<path key={'l' + i} d={line(s.values) || ''} stroke={s.color} strokeWidth={1.9} />
					))}
					{amplified.map((s, i) => (
						<path key={'a' + i} d={line(s.values) || ''} stroke={s.color} strokeWidth={2.3} />
					))}
				</g>

				{/* frame */}
				<line x1={plot.left} x2={plot.right} y1={plot.top} y2={plot.top} stroke="#9a9a9a" strokeWidth={1.2} />
				<line x1={plot.right} x2={plot.right} y1={plot.top} y2={plot.bottom} stroke="#9a9a9a" strokeWidth={1.2} />
				<line x1={plot.left} x2={plot.left} y1={plot.top} y2={plot.bottom + 1} stroke="#222" strokeWidth={2} />
				<line x1={plot.left - 1} x2={plot.right} y1={plot.bottom} y2={plot.bottom} stroke="#333" strokeWidth={2} />

				{/* y ticks */}
				<g fontFamily={font} fontSize={14} fill="#333" textAnchor="end">
					{yTickValues.map((v, i) => (
						<text key={i} x={140} y={yScale(v) + 5}>
							{yTickLabels[i]}
						</text>
					))}
				</g>

				{/* x ticks */}
				<g fontFamily={font} fontSize={14.5} fill="#333" textAnchor="middle">
					{cycles.map((c) => (
						<text key={c} x={xScale(c)} y={654}>
							{c}
						</text>
					))}
				</g>

				<text
					x={538}
					y={25}
					fontFamily={font}
					fontSize={22}
					fill="#222"
					textAnchor="middle"
					style={{ textDecoration: 'underline' }}
				>
					Delta Rn vs Cycle
				</text>
				<text x={532} y={701} fontFamily={font} fontSize={23} fill="#222" textAnchor="middle">
					Cycle Number
				</text>
				<text
					transform="translate(29,343) rotate(-90)"
					fontFamily={font}
					fontSize={22}
					fill="#222"
					textAnchor="middle"
				>
					Delta Rn
				</text>
				<text x={-20} y={722} fontFamily={font} fontSize={16.5} fill="#222">
					Selected Detector: All
				</text>
			</svg>
		</div>
	)
}

export default App
